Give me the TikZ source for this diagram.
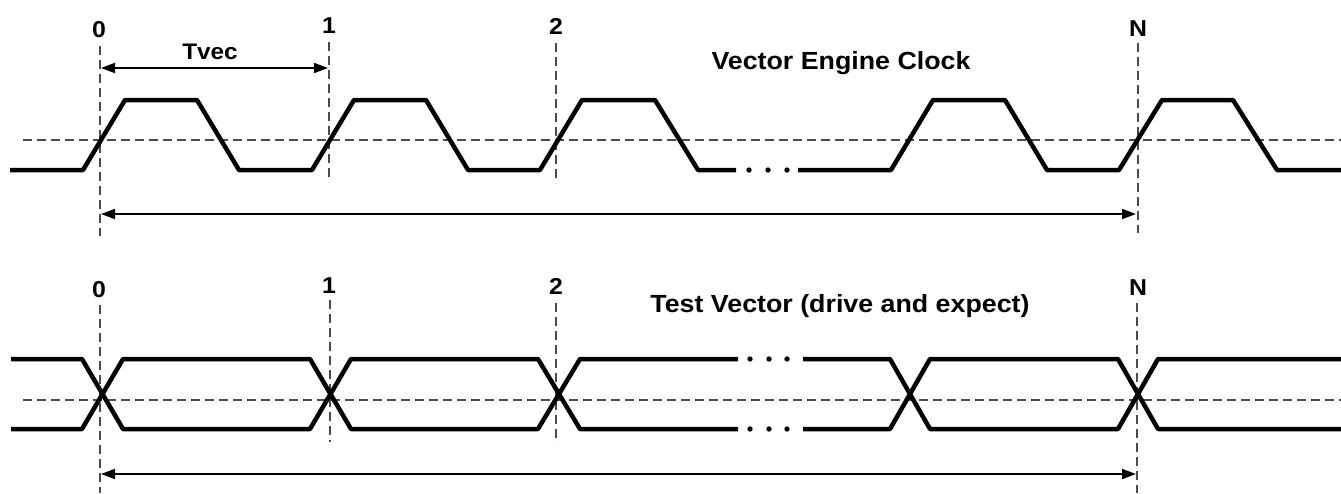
\documentclass[tikz,border=0pt]{standalone}
\usepackage{fontspec}
\setmainfont{Liberation Sans}[FakeStretch=1.08]
\usepackage{tikz}
\usetikzlibrary{positioning,arrows.meta}

\begin{document}
\begin{tikzpicture}[x=1pt,y=-1pt,
  wave/.style={line width=4.5pt,line join=round},
  guide/.style={line width=2.2pt,black!70,dash pattern=on 9pt off 5pt},
  span/.style={line width=1.8pt,<->,>={Triangle[length=14pt,width=10pt]}},
  num/.style={font=\fontsize{23}{24}\selectfont\bfseries,anchor=base,inner sep=0pt},
  title/.style={font=\fontsize{24.8}{26}\selectfont\bfseries,anchor=base,inner sep=0pt}
]
\useasboundingbox (0,0) rectangle (1341,493);

% clock part
\draw[guide] (23,140) -- (1341,140);
\draw[guide] (100,46) -- (100,236);
\draw[guide] (329,42) -- (329,182);
\draw[guide] (556,43) -- (556,183);
\draw[guide] (1138,43) -- (1138,233);
\node[num] (c0) at (99,37) {0};
\node[num] (c1) at (329,33) {1};
\node[num] (c2) at (556,34) {2};
\node[num] (cN) at (1138,36) {N};
\node[title] (clk) at (841,69) {Vector Engine Clock};
\node[font=\fontsize{22.5}{23}\selectfont\bfseries,anchor=base,inner sep=0pt] (tvec) at (210,59) {Tvec};
\draw[wave] (10,170) -- (83,170) -- (125,100) -- (197,100) -- (239,170) -- (312,170) -- (354,100) -- (426,100) -- (468,170) -- (540,170) -- (582,100) -- (655,100) -- (698,170) -- (736,170);
\draw[wave] (798,170) -- (891,170) -- (933,100) -- (1005,100) -- (1047,170) -- (1119,170) -- (1162,100) -- (1233,100) -- (1277,170) -- (1341,170);
\fill (749,170) circle (2.7) (768,170) circle (2.7) (787,170) circle (2.7);
\coordinate (tvL) at (101,68);
\coordinate (tvR) at (328,68);
\draw[span] (tvL) -- (tvR);
\coordinate (clkL) at (101,214);
\coordinate (clkR) at (1136,214);
\draw[span] (clkL) -- (clkR);

% test vector part
\draw[guide] (23,400) -- (1341,400);
\draw[guide] (100,305) -- (100,493);
\draw[guide] (330,300) -- (330,442);
\draw[guide] (556,303) -- (556,443);
\draw[guide] (1137,303) -- (1137,493);
\node[num] (v0) at (99,297) {0};
\node[num] (v1) at (329,293) {1};
\node[num] (v2) at (556,294) {2};
\node[num] (vN) at (1138,295) {N};
\node[title] (vec) at (840,312) {Test Vector (drive and expect)};
\draw[wave] (11,359) -- (82,359) -- (123,429) -- (310,429) -- (351,359) -- (538,359) -- (580,429) -- (738,429);
\draw[wave] (11,429) -- (82,429) -- (123,359) -- (310,359) -- (351,429) -- (538,429) -- (580,359) -- (738,359);
\draw[wave] (803,429) -- (890,429) -- (930,359) -- (1118,359) -- (1158,429) -- (1341,429);
\draw[wave] (803,359) -- (890,359) -- (930,429) -- (1118,429) -- (1158,359) -- (1341,359);
\fill (750,359) circle (2.7) (769,359) circle (2.7) (787,359) circle (2.7);
\fill (750,429) circle (2.7) (769,429) circle (2.7) (787,429) circle (2.7);
\coordinate (vecL) at (101,474);
\coordinate (vecR) at (1136,474);
\draw[span] (vecL) -- (vecR);
\end{tikzpicture}
\end{document}
